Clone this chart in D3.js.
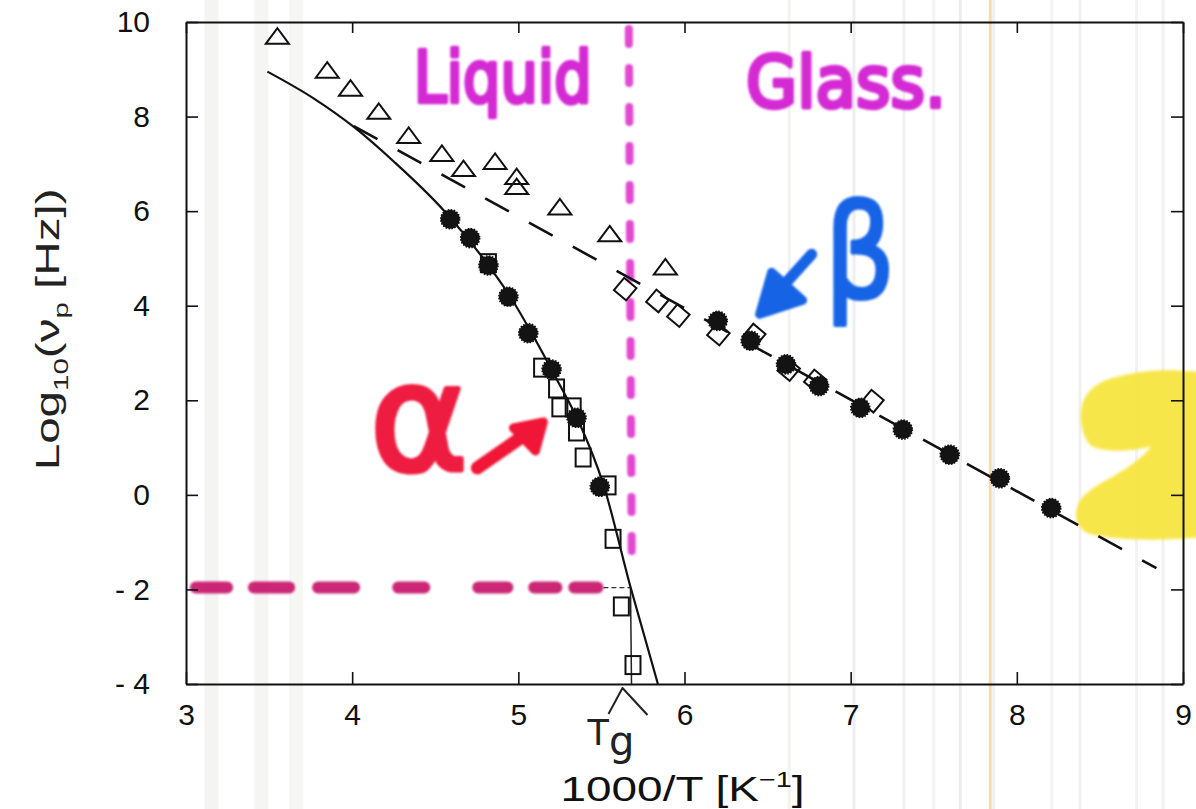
<!DOCTYPE html>
<html>
<head>
<meta charset="utf-8">
<script src="https://cdn.jsdelivr.net/npm/d3@7"></script>
<style>
  html, body { margin: 0; padding: 0; background: #ffffff; }
  svg { display: block; }
</style>
</head>
<body>
<svg id="chart" width="1196" height="809"></svg>
<script>
// ---------------- data ----------------
const xTicks = [3, 4, 5, 6, 7, 8, 9];
const yTicks = [10, 8, 6, 4, 2, 0, -2, -4];
const yTickLabels = ["10", "8", "6", "4", "2", "0", "- 2", "- 4"];

// alpha relaxation peaks
const alphaCircleX = [4.59, 4.71, 4.82, 4.94, 5.06, 5.20, 5.35, 5.49];
const alphaCircleY = [5.83, 5.43, 4.85, 4.19, 3.42, 2.65, 1.63, 0.17];
const alphaSquareX = [4.82, 5.14, 5.23, 5.25, 5.33, 5.35, 5.39, 5.54, 5.57, 5.62, 5.69];
const alphaSquareY = [4.90, 2.69, 2.25, 1.85, 1.85, 1.34, 0.79, 0.20, -0.93, -2.36, -3.60];

// VFT curve through the alpha data
const alphaFitX = [3.49, 3.77, 4.01, 4.25, 4.55, 4.80, 4.95, 5.09, 5.23, 5.37, 5.51, 5.675, 5.84];
const alphaFitY = [8.95, 8.38, 7.78, 7.05, 6.02, 4.95, 4.20, 3.36, 2.45, 1.50, 0.24, -1.95, -4.00];

// beta relaxation peaks
const betaTriangleX = [3.55, 3.85, 3.99, 4.16, 4.34, 4.54, 4.67, 4.86, 4.99, 4.99, 5.25, 5.55, 5.885];
const betaTriangleY = [9.70, 8.98, 8.60, 8.11, 7.60, 7.22, 6.90, 7.05, 6.73, 6.52, 6.09, 5.52, 4.82];
const betaDiamondX = [5.643, 5.837, 5.963, 6.204, 6.42, 6.627, 6.787, 7.131];
const betaDiamondY = [4.35, 4.10, 3.79, 3.40, 3.38, 2.65, 2.41, 1.98];
const betaCircleX = [6.20, 6.398, 6.611, 6.810, 7.058, 7.314, 7.596, 7.898, 8.207];
const betaCircleY = [3.68, 3.26, 2.76, 2.30, 1.84, 1.38, 0.85, 0.35, -0.28];

// Arrhenius line through the beta data
const betaFitX = [4.01, 8.84];
const betaFitY = [7.80, -1.55];

// glass transition markers
const tgX = 5.675;            // 1000/Tg
const tgLogNu = -1.96;        // log10 of the frequency defining Tg
const liquidGlassX = 5.665;   // liquid | glass divider
const tgDashStart = [3.024, 3.373, 3.759, 4.241, 4.723, 5.060, 5.301];
const tgDashEnd   = [3.283, 3.657, 4.048, 4.470, 4.970, 5.265, 5.512];

// faint vertical streaks on the paper, in 1000/T units
const streakX = [3.12, 3.42, 3.63, 6.63, 7.02, 7.32, 7.50, 7.66, 7.84, 7.86, 8.21, 8.38, 8.72, 8.88];
const streakTone = ["#f1f1ef", "#f3f3f1", "#f4f4f2", "#efefee", "#ebebeb", "#eeeeee", "#f0f0f0", "#e9e9e9",
                    "#f3d29c", "#ececec", "#f0f0f0", "#eeeeee", "#f0f0f0", "#eeeeee"];

// ---------------- layout ----------------
const svg = d3.select("#chart");
const W = 1196, H = 809;
const plot = { left: 186, right: 1183, top: 22, bottom: 684 };

const x = d3.scaleLinear().domain([3, 9]).range([plot.left, plot.right]);
const y = d3.scaleLinear().domain([-4, 10]).range([plot.bottom, plot.top]);

const defs = svg.append("defs");
function blurFilter(id, sd) {
  defs.append("filter").attr("id", id).attr("filterUnits", "userSpaceOnUse")
    .attr("x", -W).attr("y", -H).attr("width", 3 * W).attr("height", 3 * H)
    .append("feGaussianBlur").attr("stdDeviation", sd);
}
blurFilter("soft", 0.9);
blurFilter("softer", 1.8);
defs.append("clipPath").attr("id", "plotClip")
  .append("rect").attr("x", plot.left).attr("y", plot.top)
  .attr("width", plot.right - plot.left).attr("height", plot.bottom - plot.top);

svg.append("rect").attr("width", W).attr("height", H).attr("fill", "#ffffff");

// paper streaks
svg.append("g").selectAll("rect").data(streakX).join("rect")
  .attr("x", d => x(d) - 1.5).attr("y", 0)
  .attr("width", (d, i) => i < 3 ? 14 : 3).attr("height", H)
  .attr("fill", (d, i) => streakTone[i]).attr("opacity", 0.8);

// yellow highlighter blob at the right edge
{
  const bx = x(8.75), by = y(0.9);
  svg.append("path")
    .attr("transform", `translate(${bx},${by})`)
    .attr("d", "M -26,-75 C 8,-85 43,-82 60,-80 L 60,85 C 18,89 -32,88 -54,81 " +
               "C -68,74 -69,56 -58,44 C -49,35 -39,30 -30,25 C -14,16 0,6 10,-6 " +
               "C -12,0 -36,0 -50,-6 C -61,-16 -64,-40 -57,-54 C -50,-66 -39,-72 -26,-75 Z")
    .attr("fill", "#f7e43a").attr("opacity", 0.92).attr("filter", "url(#softer)");
}

// ---------------- guides ----------------
// horizontal marker dashes at the Tg frequency
svg.append("g").attr("filter", "url(#soft)")
  .selectAll("line").data(tgDashStart).join("line")
  .attr("x1", (d) => x(d) + 6).attr("x2", (d, i) => x(tgDashEnd[i]) - 6)
  .attr("y1", y(tgLogNu)).attr("y2", y(tgLogNu))
  .attr("stroke", "#c8166c").attr("stroke-width", 12).attr("stroke-linecap", "round")
  .attr("opacity", 0.93);
svg.append("line")
  .attr("x1", x(tgDashEnd[tgDashEnd.length - 1])).attr("x2", x(tgX))
  .attr("y1", y(tgLogNu)).attr("y2", y(tgLogNu))
  .attr("stroke", "#333").attr("stroke-width", 1.3).attr("stroke-dasharray", "5 3");

// vertical liquid / glass divider
svg.append("line")
  .attr("x1", x(liquidGlassX)).attr("x2", x(liquidGlassX) + 3)
  .attr("y1", y(9.85)).attr("y2", y(-1.62))
  .attr("stroke", "#e036cc").attr("stroke-width", 8).attr("stroke-linecap", "round")
  .attr("stroke-dasharray", "15 24").attr("opacity", 0.9).attr("filter", "url(#soft)");

// Tg drop line to the axis
svg.append("line")
  .attr("x1", x(tgX)).attr("x2", x(tgX) + 1)
  .attr("y1", y(tgLogNu)).attr("y2", y(-4))
  .attr("stroke", "#222").attr("stroke-width", 1.5);

// ---------------- fits ----------------
const plotG = svg.append("g").attr("clip-path", "url(#plotClip)");

const alphaLine = d3.line().x(d => x(d[0])).y(d => y(d[1])).curve(d3.curveMonotoneX);
plotG.append("path")
  .datum(alphaFitX.map((v, i) => [v, alphaFitY[i]]))
  .attr("d", alphaLine)
  .attr("fill", "none").attr("stroke", "#111").attr("stroke-width", 2.2);

plotG.append("path")
  .datum(betaFitX.map((v, i) => [v, betaFitY[i]]))
  .attr("d", d3.line().x(d => x(d[0])).y(d => y(d[1])))
  .attr("fill", "none").attr("stroke", "#111").attr("stroke-width", 2.6)
  .attr("stroke-dasharray", "27 23");

// ---------------- markers ----------------
const triPath = "M -11.5,7.5 L 0,-8 L 11.5,7.5 Z";
plotG.append("g").selectAll("path").data(betaTriangleX).join("path")
  .attr("transform", (d, i) => `translate(${x(d)},${y(betaTriangleY[i])})`)
  .attr("d", triPath)
  .attr("fill", "none").attr("stroke", "#111").attr("stroke-width", 2)
  .attr("stroke-linejoin", "miter");

plotG.append("g").selectAll("rect").data(betaDiamondX).join("rect")
  .attr("transform", (d, i) => `translate(${x(d)},${y(betaDiamondY[i])}) rotate(40)`)
  .attr("x", -8).attr("y", -8).attr("width", 16).attr("height", 16)
  .attr("fill", "none").attr("stroke", "#111").attr("stroke-width", 2);

plotG.append("g").selectAll("rect").data(alphaSquareX).join("rect")
  .attr("transform", (d, i) => `translate(${x(d)},${y(alphaSquareY[i])})`)
  .attr("x", -7.5).attr("y", -9).attr("width", 15).attr("height", 18)
  .attr("fill", "none").attr("stroke", "#111").attr("stroke-width", 2);

const dotStyle = sel => sel
  .attr("r", 9.5).attr("fill", "#131313")
  .attr("stroke", "#131313").attr("stroke-width", 1.6).attr("stroke-dasharray", "1.6 1.4");

plotG.append("g").selectAll("circle").data(alphaCircleX).join("circle")
  .attr("cx", d => x(d)).attr("cy", (d, i) => y(alphaCircleY[i])).call(dotStyle);
plotG.append("g").selectAll("circle").data(betaCircleX).join("circle")
  .attr("cx", d => x(d)).attr("cy", (d, i) => y(betaCircleY[i])).call(dotStyle);

// ---------------- axes & frame ----------------
const axisFont = "'Liberation Sans', Arial, Helvetica, sans-serif";

const gx = svg.append("g").attr("transform", `translate(0,${plot.bottom})`)
  .call(d3.axisBottom(x).tickValues(xTicks).tickFormat(d3.format("d"))
    .tickSizeInner(-12).tickSizeOuter(0).tickPadding(20));
const gy = svg.append("g").attr("transform", `translate(${plot.left},0)`)
  .call(d3.axisLeft(y).tickValues(yTicks).tickFormat((d, i) => yTickLabels[i])
    .tickSizeInner(-12).tickSizeOuter(0).tickPadding(36));
const gt = svg.append("g").attr("transform", `translate(0,${plot.top})`)
  .call(d3.axisTop(x).tickValues(xTicks).tickFormat("").tickSizeInner(-11).tickSizeOuter(0));
const gr = svg.append("g").attr("transform", `translate(${plot.right},0)`)
  .call(d3.axisRight(y).tickValues(yTicks).tickFormat("").tickSizeInner(-12).tickSizeOuter(0));

[gx, gy, gt, gr].forEach(g => {
  g.select(".domain").attr("stroke", "#111").attr("stroke-width", 2);
  g.selectAll(".tick line").attr("stroke", "#111").attr("stroke-width", 1.6);
  g.selectAll(".tick text").attr("fill", "#111").attr("font-family", axisFont)
    .attr("font-size", 30);
});

// axis titles
svg.append("text")
  .attr("x", x(6) - 2).attr("y", 801)
  .attr("text-anchor", "middle")
  .attr("font-family", axisFont).attr("font-size", 35).attr("fill", "#111")
  .attr("textLength", 244).attr("lengthAdjust", "spacingAndGlyphs")
  .call(t => {
    t.append("tspan").text("1000/T [K");
    t.append("tspan").attr("font-size", 22).attr("dy", -14).text("\u22121");
    t.append("tspan").attr("dy", 14).text("]");
  });

svg.append("text")
  .attr("transform", `translate(59,${y(3.5)}) rotate(-90)`)
  .attr("text-anchor", "middle")
  .attr("font-family", axisFont).attr("font-size", 34).attr("fill", "#222")
  .attr("textLength", 282).attr("lengthAdjust", "spacingAndGlyphs")
  .call(t => {
    t.append("tspan").text("Log");
    t.append("tspan").attr("font-size", 21).attr("dy", 9).text("10");
    t.append("tspan").attr("dy", -9).text("(\u03bd");
    t.append("tspan").attr("font-size", 21).attr("dy", 9).text("p");
    t.append("tspan").attr("dy", -9).text(" [Hz])");
  });

// ---------------- hand annotations ----------------
const handFont = "'DejaVu Sans', 'Noto Sans', sans-serif";

svg.append("text")
  .attr("x", x(4.37)).attr("y", y(8.31))
  .attr("font-family", handFont)
  .attr("font-size", 72).attr("textLength", 178).attr("lengthAdjust", "spacingAndGlyphs")
  .attr("fill", "#d42ad4").attr("stroke", "#d42ad4").attr("stroke-width", 4.5)
  .attr("stroke-linejoin", "round").attr("filter", "url(#soft)")
  .text("Liquid");

svg.append("text")
  .attr("x", x(6.37)).attr("y", y(8.2))
  .attr("font-family", handFont)
  .attr("font-size", 72).attr("textLength", 200).attr("lengthAdjust", "spacingAndGlyphs")
  .attr("fill", "#d42ad4").attr("stroke", "#d42ad4").attr("stroke-width", 4.5)
  .attr("stroke-linejoin", "round").attr("filter", "url(#soft)")
  .text("Glass.");

// alpha label with arrow towards the alpha branch
{
  const ax = x(4.2), ay = y(1.5);
  const g = svg.append("g").attr("transform", `translate(${ax},${ay})`).attr("filter", "url(#soft)");
  g.append("text").attr("x", -16).attr("y", 46)
    .attr("font-family", handFont).attr("font-size", 150)
    .attr("fill", "#ee1c40").attr("stroke", "#ee1c40").attr("stroke-width", 5).attr("stroke-linejoin", "round")
    .text("\u03b1");
  g.append("path").attr("d", "M 92,44 L 138,12")
    .attr("stroke", "#f01838").attr("stroke-width", 13).attr("stroke-linecap", "round").attr("fill", "none");
  g.append("path").attr("d", "M 158,-2 L 128,4 L 150,27 Z")
    .attr("fill", "#f01838").attr("stroke", "#f01838").attr("stroke-width", 9).attr("stroke-linejoin", "round");
}

// beta label with arrow towards the beta branch
{
  const bx = x(7.0), by = y(4.2);
  const g = svg.append("g").attr("transform", `translate(${bx},${by})`).attr("filter", "url(#soft)");
  g.append("text").attr("transform", "translate(-26,2) scale(0.85,1)")
    .attr("font-family", handFont).attr("font-size", 130)
    .attr("fill", "#1563e6").attr("stroke", "#1563e6").attr("stroke-width", 4).attr("stroke-linejoin", "round")
    .text("\u03b2");
  g.append("path").attr("d", "M -39,-42 L -66,-12")
    .attr("stroke", "#1563e6").attr("stroke-width", 11).attr("stroke-linecap", "round").attr("fill", "none");
  g.append("path").attr("d", "M -91,18 L -79,-24 L -48,4 Z")
    .attr("fill", "#1563e6").attr("stroke", "#1563e6").attr("stroke-width", 9).attr("stroke-linejoin", "round");
}

// Tg mark under the axis
{
  const tx = x(tgX), ty = y(-4);
  const g = svg.append("g").attr("transform", `translate(${tx},${ty})`);
  g.append("path").attr("d", "M -22,30 L -8,4 L 17,31")
    .attr("fill", "none").attr("stroke", "#222").attr("stroke-width", 2).attr("stroke-linejoin", "round");
  g.append("text").attr("x", -43).attr("y", 61)
    .attr("font-family", "'DejaVu Sans', sans-serif").attr("font-size", 35).attr("fill", "#222")
    .call(t => {
      t.append("tspan").text("T");
      t.append("tspan").attr("font-size", 40).attr("dy", 10).attr("dx", 0).text("g");
    });
}
</script>
</body>
</html>
